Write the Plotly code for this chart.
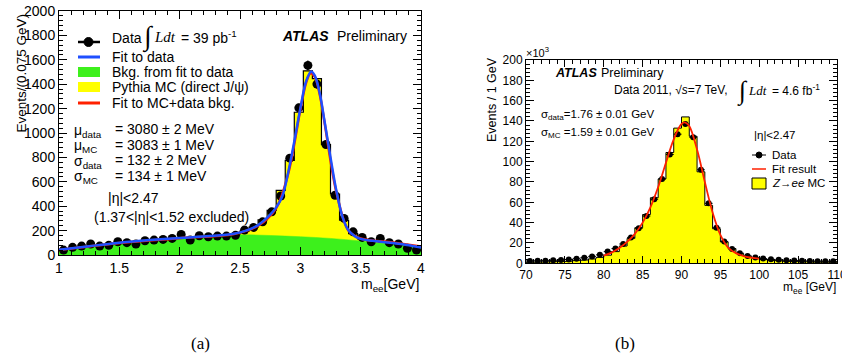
import numpy as np
import plotly.graph_objects as go

# ---------------- Panel (a): J/psi -> ee ----------------
a_edge0, a_bw = 1.0, 0.075
data_a = [40, 63, 73, 90, 73, 79, 109, 101, 90, 117, 122, 128, 136, 169, 122, 158, 150, 155, 155, 161,
          204, 226, 272, 354, 484, 794, 1206, 1554, 1401, 906, 490, 300, 190, 144, 109, 136, 101, 90, 55, 41]
# Pythia MC + bkg histogram (visible bins from 2.5 GeV)
mc_a_edge0 = 2.5
mc_a = [195, 228, 288, 365, 530, 775, 1170, 1510, 1445, 905, 500, 285, 175, 132, 115, 110, 100, 92, 82, 72]
# background from fit (green)
bkg_x = [1.0, 1.25, 1.5, 1.75, 2.0, 2.25, 2.5, 2.75, 3.0, 3.25, 3.5, 3.75, 4.0]
bkg_y = [41, 72, 96, 116, 133, 150, 165, 160, 150, 136, 115, 90, 63]
# fit to data (blue)
fit_a_x = [1.0, 1.25, 1.5, 1.75, 2.0, 2.25, 2.45, 2.55, 2.65, 2.75, 2.8, 2.85, 2.9, 2.95, 3.0, 3.05, 3.09,
           3.12, 3.16, 3.2, 3.25, 3.3, 3.35, 3.4, 3.45, 3.5, 3.6, 3.75, 3.9, 4.0]
fit_a_y = [42, 72, 100, 122, 140, 155, 175, 200, 245, 330, 390, 480, 680, 930, 1200, 1430, 1505,
           1470, 1330, 1100, 800, 520, 310, 200, 155, 132, 116, 100, 80, 62]
# fit to MC + data bkg (red)
fitmc_a_x = [1.0, 1.5, 2.0, 2.45, 2.65, 2.8, 2.9, 3.0, 3.05, 3.085, 3.12, 3.16, 3.2, 3.3, 3.4, 3.5, 3.75, 4.0]
fitmc_a_y = [40, 98, 138, 172, 240, 385, 670, 1190, 1420, 1490, 1460, 1320, 1090, 510, 198, 135, 104, 70]

# ---------------- Panel (b): Z -> ee ----------------
b_edge0, b_bw = 70.0, 1.0
data_b = [2.3, 2.4, 2.6, 3.0, 3.3, 3.7, 4.5, 5.5, 6.8, 8.3, 11.5, 14.5, 19, 25.5, 34.5, 46.5, 63, 83, 107, 127,
          137, 124, 92, 59, 35, 21.5, 14, 10, 7.3, 5.6, 4.6, 3.9, 3.4, 3.0, 2.7, 2.5, 2.3, 2.1, 2.0, 1.9]
mc_b = [1.0, 1.1, 1.3, 1.5, 1.8, 2.1, 2.6, 3.3, 4.3, 5.8, 8.0, 11.5, 17, 24.5, 35, 48, 64.5, 83, 109, 133,
        144, 125, 90, 57, 34, 21, 14.5, 9.5, 7, 5, 3.8, 3.0, 2.4, 2.0, 1.7, 1.5, 1.3, 1.2, 1.1, 1.0]
fit_b_x = [80, 81, 82, 83, 84, 85, 86, 87, 88, 89, 90, 90.5, 91, 92, 93, 94, 95, 96, 97, 98, 99, 100]
fit_b_y = [7.5, 10.5, 15, 21, 29, 40, 55, 75, 99, 122, 137, 138.5, 135, 112, 80, 50, 28, 15.5, 10, 7, 5.5, 4.5]

W, H = 842, 354
def PX(x): return x / W
def PY(y): return 1 - y / H

def step_xy(edge0, bw, vals):
    xs = [edge0]
    ys = [0]
    for i, v in enumerate(vals):
        xs += [edge0 + i * bw, edge0 + (i + 1) * bw]
        ys += [v, v]
    xs.append(edge0 + len(vals) * bw)
    ys.append(0)
    return xs, ys

FONT = "Liberation Sans, Arial, Helvetica, sans-serif"
SERIF = "Liberation Serif, Times New Roman, serif"
GREEN = "#3df01c"
YELLOW = "#ffff00"
BLUE = "#1f4fff"
RED = "#ff2000"

fig = go.Figure()

# ----- panel (a) traces -----
cen_a = [a_edge0 + (i + 0.5) * a_bw for i in range(len(data_a))]
sx, sy = step_xy(mc_a_edge0, a_bw, mc_a)
fig.add_trace(go.Scatter(x=sx, y=sy, mode="lines", line=dict(color="black", width=1.2),
                         fill="toself", fillcolor=YELLOW, xaxis="x", yaxis="y", showlegend=False))
fig.add_trace(go.Scatter(x=bkg_x, y=bkg_y, mode="lines", line=dict(color=GREEN, width=0.5, shape="spline"),
                         fill="tozeroy", fillcolor=GREEN, xaxis="x", yaxis="y", showlegend=False))
fig.add_trace(go.Scatter(x=cen_a, y=data_a, mode="markers",
                         marker=dict(color="black", size=9),
                         error_y=dict(type="data", array=list(np.sqrt(data_a)), color="black", thickness=1.2, width=0),
                         xaxis="x", yaxis="y", showlegend=False))
fig.add_trace(go.Scatter(x=fitmc_a_x, y=fitmc_a_y, mode="lines", line=dict(color=RED, width=2.5, shape="spline"),
                         xaxis="x", yaxis="y", showlegend=False))
fig.add_trace(go.Scatter(x=fit_a_x, y=fit_a_y, mode="lines", line=dict(color=BLUE, width=2.5, shape="spline"),
                         xaxis="x", yaxis="y", showlegend=False))

# ----- panel (b) traces -----
cen_b = [b_edge0 + (i + 0.5) * b_bw for i in range(len(data_b))]
sx, sy = step_xy(b_edge0, b_bw, mc_b)
fig.add_trace(go.Scatter(x=sx, y=sy, mode="lines", line=dict(color="black", width=1),
                         fill="toself", fillcolor=YELLOW, xaxis="x2", yaxis="y2", showlegend=False))
fig.add_trace(go.Scatter(x=cen_b, y=data_b, mode="markers",
                         marker=dict(color="black", size=6),
                         error_x=dict(type="constant", value=0.5, color="black", thickness=1, width=0),
                         xaxis="x2", yaxis="y2", showlegend=False))
fig.add_trace(go.Scatter(x=fit_b_x, y=fit_b_y, mode="lines", line=dict(color=RED, width=1.8, shape="spline"),
                         xaxis="x2", yaxis="y2", showlegend=False))

def axis(domain, rng, dtick, mdtick, size, anchor, ticklen=8, mlen=4):
    return dict(domain=domain, range=rng, dtick=dtick, tick0=0, ticks="inside", ticklen=ticklen,
                tickcolor="black", tickwidth=1, showline=True, linecolor="black", linewidth=1,
                mirror="ticks", showgrid=False, zeroline=False, anchor=anchor, automargin=False,
                ticklabeloverflow="allow",
                tickfont=dict(family=FONT, size=size, color="black"),
                minor=dict(dtick=mdtick, ticks="inside", ticklen=mlen, tickcolor="black", showgrid=False))

fig.update_layout(
    template="none",
    width=W, height=H, margin=dict(l=0, r=0, t=0, b=0, pad=0, autoexpand=False),
    paper_bgcolor="white", plot_bgcolor="white", showlegend=False,
    xaxis=axis([PX(59), PX(421)], [1, 4], 0.5, 0.1, 14, "y"),
    yaxis=axis([PY(255), PY(11)], [0, 2000], 200, 40, 14, "x"),
    xaxis2=axis([PX(526), PX(837)], [70, 110], 5, 1, 12, "y2", ticklen=7, mlen=4),
    yaxis2=axis([PY(263.3), PY(60)], [0, 200], 20, 4, 12, "x2", ticklen=8, mlen=4),
)

shapes = []
ann = []
def text(x, y, s, size=14, xanchor="left", family=FONT, angle=0):
    ann.append(dict(x=PX(x), y=PY(y), xref="paper", yref="paper", text=s, showarrow=False,
                    xanchor=xanchor, yanchor="middle", textangle=angle,
                    font=dict(family=family, size=size, color="black")))

# panel (a) legend
shapes.append(dict(type="line", xref="paper", yref="paper", x0=PX(78), x1=PX(100), y0=PY(42), y1=PY(42),
                   line=dict(color="black", width=2.5)))
shapes.append(dict(type="circle", xref="paper", yref="paper", x0=PX(84), x1=PX(93), y0=PY(46.5), y1=PY(37.5),
                   fillcolor="black", line=dict(color="black", width=1)))
shapes.append(dict(type="line", xref="paper", yref="paper", x0=PX(78), x1=PX(100), y0=PY(57), y1=PY(57),
                   line=dict(color=BLUE, width=3)))
shapes.append(dict(type="rect", xref="paper", yref="paper", x0=PX(78), x1=PX(100), y0=PY(77), y1=PY(67),
                   fillcolor=GREEN, line=dict(width=0)))
shapes.append(dict(type="rect", xref="paper", yref="paper", x0=PX(78), x1=PX(100), y0=PY(92), y1=PY(82),
                   fillcolor=YELLOW, line=dict(width=0)))
shapes.append(dict(type="line", xref="paper", yref="paper", x0=PX(78), x1=PX(100), y0=PY(103), y1=PY(103),
                   line=dict(color=RED, width=3)))
text(110, 38, "Data")
text(110, 57, "Fit to data")
text(110, 72, "Bkg. from fit to data")
text(110, 87, "Pythia MC (direct J/ψ)")
text(110, 103, "Fit to MC+data bkg.")
text(140, 37, "<span style='font-size:27px'>∫</span>", size=27, family=SERIF)
text(152, 37, "<i>Ldt</i>", size=15, family=SERIF)
text(179, 37, "= 39 pb<sup>-1</sup>", size=14)
text(280, 36, "<b><i>ATLAS</i></b>", size=14)
text(335, 36, "Preliminary", size=14)

text(72, 131, "μ<sub>data</sub>")
text(72, 146, "μ<sub>MC</sub>")
text(72, 162, "σ<sub>data</sub>")
text(72, 177, "σ<sub>MC</sub>")
text(113, 129, "= 3080 ± 2 MeV")
text(113, 145, "= 3083 ± 1 MeV")
text(113, 160, "= 132 ± 2 MeV")
text(113, 176, "= 134 ± 1 MeV")
text(133, 198, "|η|<2.47", xanchor="center")
text(171, 217, "(1.37<|η|<1.52 excluded)", xanchor="center")

text(421, 285, "m<sub>ee</sub>[GeV]", xanchor="right")
text(11, 73, "Events/(0.075 GeV)", size=13.5, angle=-90)

# panel (b) text
text(553, 73, "<b><i>ATLAS</i></b>", size=12.5)
text(599, 73, "Preliminary", size=12.5)
text(612, 90, "Data 2011, √<i>s</i>=7 TeV,", size=12)
text(735, 91, "<span style='font-size:26px'>∫</span>", size=26, family=SERIF)
text(746, 90, "<i>Ldt</i>", size=13, family=SERIF)
text(770, 90, "= 4.6 fb<sup>-1</sup>", size=12)
text(539, 115, "σ<sub>data</sub>=1.76 ± 0.01 GeV", size=11.5)
text(539, 133, "σ<sub>MC</sub> =1.59 ± 0.01 GeV", size=11.5)
text(752, 135, "|η|<2.47", size=11.5)
shapes.append(dict(type="line", xref="paper", yref="paper", x0=PX(752), x1=PX(766), y0=PY(155), y1=PY(155),
                   line=dict(color="black", width=1)))
shapes.append(dict(type="circle", xref="paper", yref="paper", x0=PX(756), x1=PX(762), y0=PY(158), y1=PY(152),
                   fillcolor="black", line=dict(color="black", width=1)))
shapes.append(dict(type="line", xref="paper", yref="paper", x0=PX(752), x1=PX(766), y0=PY(169), y1=PY(169),
                   line=dict(color=RED, width=1.5)))
shapes.append(dict(type="rect", xref="paper", yref="paper", x0=PX(752), x1=PX(766), y0=PY(189), y1=PY(178),
                   fillcolor=YELLOW, line=dict(color="black", width=1)))
text(770, 155, "Data", size=11.5)
text(770, 169, "Fit result", size=11.5)
text(770, 183, "<i>Z</i>→<i>ee</i> MC", size=11.5)
text(524, 52, "×10<sup>3</sup>", size=11)
text(838, 288, "m<sub>ee</sub> [GeV]", xanchor="right", size=12)
text(483, 100, "Events / 1 GeV", size=12.5, angle=-90)

# sub-figure captions
text(200, 343, "(a)", size=17, xanchor="center", family=SERIF)
text(625, 343, "(b)", size=17, xanchor="center", family=SERIF)

fig.update_layout(shapes=shapes, annotations=ann)
fig.write_html("out.html", config={"displayModeBar": False},
               post_script="document.body.style.margin='0px';document.body.style.overflow='hidden';")
